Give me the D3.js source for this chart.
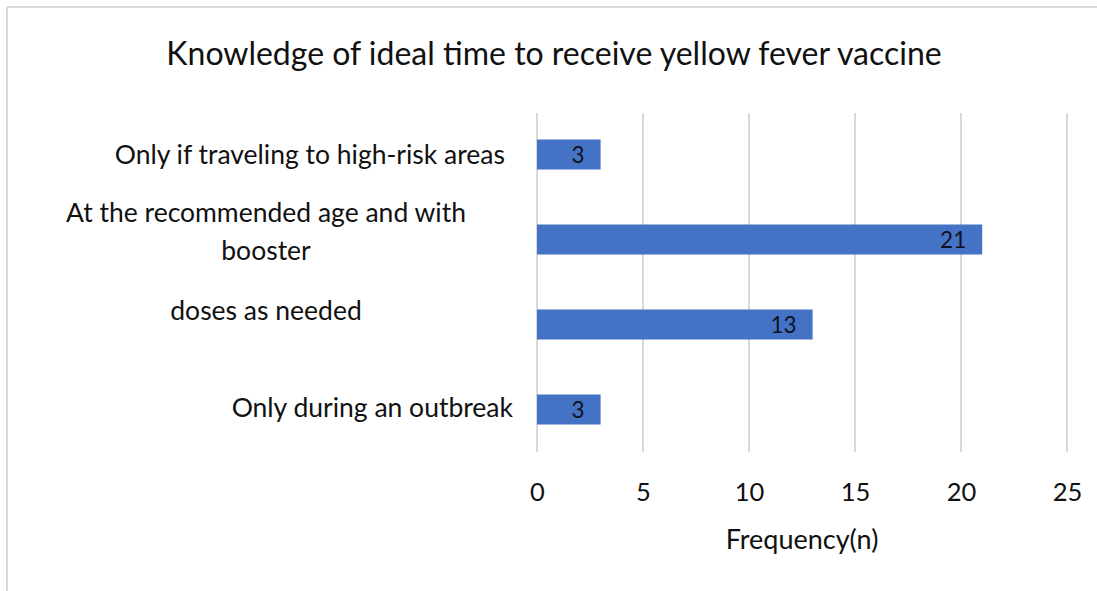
<!DOCTYPE html>
<html>
<head>
<meta charset="utf-8">
<script src="https://cdn.jsdelivr.net/npm/d3@7"></script>
<style>
  html, body { margin: 0; padding: 0; background: #fff; }
  svg { display: block; }
  text { font-family: Lato, "Open Sans", sans-serif; fill: #111; }
</style>
</head>
<body>
<svg id="chart" width="1097" height="591"></svg>
<script>
// Answer categories, top to bottom
const categories = [
  "Only if traveling to high-risk areas",
  "At the recommended age and with booster",
  "doses as needed",
  "Only during an outbreak"
];
// Lines of text drawn beside each bar
const categoryLines = [
  ["Only if traveling to high-risk areas"],
  ["At the recommended age and with", "booster"],
  ["doses as needed"],
  ["Only during an outbreak"]
];
// Frequency (n) per answer
const values = [3, 21, 13, 3];
// X axis ticks
const xTicks = [0, 5, 10, 15, 20, 25];

const titleText = "Knowledge of ideal time to receive yellow fever vaccine";
const xAxisTitle = "Frequency(n)";

const svg = d3.select("#chart");
const W = 1097, H = 591;

// Chart frame edges
svg.append("line").attr("x1", 7).attr("x2", W).attr("y1", 7).attr("y2", 7)
  .attr("stroke", "#d9d9d9").attr("stroke-width", 2);
svg.append("line").attr("x1", 7).attr("x2", 7).attr("y1", 7).attr("y2", H)
  .attr("stroke", "#d9d9d9").attr("stroke-width", 2);

const x = d3.scaleLinear().domain([0, 25]).range([537, 1067]);
const y = d3.scaleBand().domain(categories).range([112, 452]).paddingInner(0.647).paddingOuter(0.3235);

// Vertical gridlines
svg.append("g").selectAll("line").data(xTicks).join("line")
  .attr("x1", d => x(d)).attr("x2", d => x(d))
  .attr("y1", 113).attr("y2", 452)
  .attr("stroke", "#d9d9d9").attr("stroke-width", 2);

// Bars
svg.append("g").selectAll("rect").data(categories).join("rect")
  .attr("x", x(0))
  .attr("y", d => y(d))
  .attr("width", (d, i) => x(values[i]) - x(0))
  .attr("height", y.bandwidth())
  .attr("fill", "#4472c4");

// Value labels inside bar ends
svg.append("g").selectAll("text").data(categories).join("text")
  .attr("x", (d, i) => x(values[i]) - 16)
  .attr("y", d => y(d) + y.bandwidth() / 2 + 1)
  .attr("dy", "0.35em")
  .attr("text-anchor", "end")
  .attr("font-size", 22.5)
  .style("fill", "#10131f")
  .text((d, i) => values[i]);

// Category labels (per-line placement relative to band center)
const lineLayout = [
  [{ x: 505, dy: 0, anchor: "end" }],
  [{ x: 266, dy: -27, anchor: "middle" }, { x: 266, dy: 11, anchor: "middle" }],
  [{ x: 266, dy: -14, anchor: "middle" }],
  [{ x: 513, dy: -2, anchor: "end" }]
];
const catG = svg.append("g");
categories.forEach((c, i) => {
  const cy = y(c) + y.bandwidth() / 2;
  categoryLines[i].forEach((t, j) => {
    const L = lineLayout[i][j];
    catG.append("text")
      .attr("x", L.x)
      .attr("y", cy + L.dy)
      .attr("dy", "0.35em")
      .attr("text-anchor", L.anchor)
      .attr("font-size", 26.5)
      .text(t);
  });
});

// X axis tick labels
const xAxis = d3.axisBottom(x).tickValues(xTicks).tickSize(0).tickPadding(0);
const ax = svg.append("g").attr("transform", "translate(0,485)").call(xAxis);
ax.select(".domain").remove();
ax.selectAll("text").attr("font-size", 25.5).attr("dy", "0.35em").attr("y", 7)
  .style("fill", "#111");

// Axis title
svg.append("text")
  .attr("x", (x(0) + x(25)) / 2)
  .attr("y", 540)
  .attr("dy", "0.35em")
  .attr("text-anchor", "middle")
  .attr("font-size", 27)
  .text(xAxisTitle);

// Chart title
svg.append("text")
  .attr("x", 554)
  .attr("y", 54)
  .attr("dy", "0.35em")
  .attr("text-anchor", "middle")
  .attr("font-size", 32)
  .text(titleText);
</script>
</body>
</html>
